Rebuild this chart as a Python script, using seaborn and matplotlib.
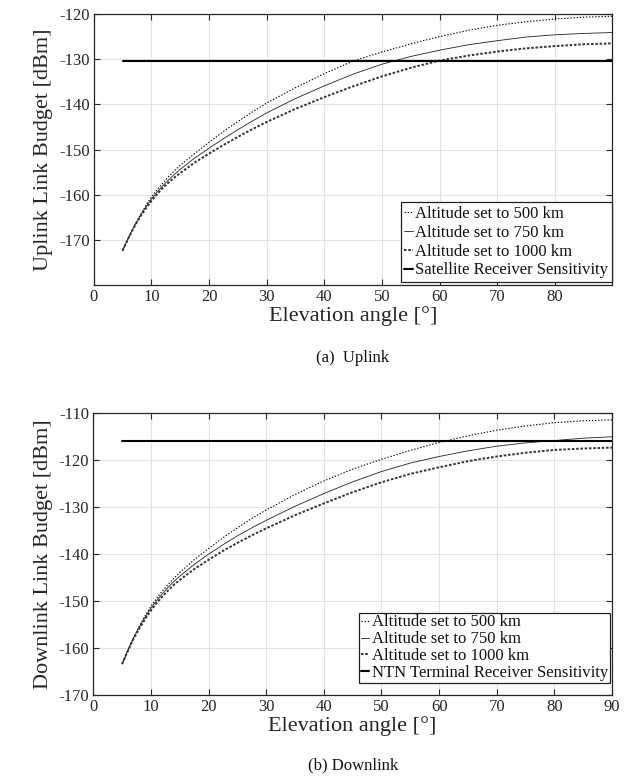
import matplotlib
matplotlib.use("Agg")
import matplotlib.pyplot as plt
import pandas as pd
import seaborn as sns

# ---------------- data ----------------
elev = [5, 6, 7, 8, 9, 10, 11, 12, 13, 14, 15, 17.5, 20, 22.5, 25, 27.5, 30,
        35, 40, 45, 50, 55, 60, 65, 70, 75, 80, 85, 90]

ul_500 = [-172.4, -169.6, -167.0, -164.7, -162.5, -160.5, -158.9, -157.4, -156.0, -154.7,
          -153.5, -150.9, -148.4, -146.0, -143.8, -141.7, -139.7, -136.3, -133.2, -130.4,
          -128.4, -126.6, -125.0, -123.6, -122.5, -121.7, -121.1, -120.7, -120.5]
ul_750 = [-172.4, -169.6, -167.0, -164.8, -162.8, -161.0, -159.4, -158.0, -156.7, -155.5,
          -154.4, -151.9, -149.7, -147.6, -145.6, -143.7, -141.9, -138.7, -135.9, -133.3,
          -131.1, -129.4, -128.0, -126.8, -125.9, -125.1, -124.6, -124.3, -124.1]
ul_1000 = [-172.4, -169.7, -167.2, -165.0, -163.1, -161.4, -159.9, -158.5, -157.3, -156.2,
           -155.2, -152.9, -150.9, -149.0, -147.2, -145.5, -143.9, -141.0, -138.4, -136.0,
           -133.8, -131.9, -130.3, -129.2, -128.3, -127.6, -127.1, -126.7, -126.5]
ul_sens = -130.3

dl_500 = [-163.4, -160.4, -157.7, -155.3, -153.1, -151.1, -149.4, -147.8, -146.4, -145.1,
          -143.9, -141.2, -138.8, -136.5, -134.4, -132.4, -130.6, -127.3, -124.4, -121.9,
          -119.8, -117.9, -116.2, -114.8, -113.6, -112.7, -112.0, -111.6, -111.4]
dl_750 = [-163.4, -160.5, -157.8, -155.5, -153.4, -151.5, -149.9, -148.4, -147.0, -145.8,
          -144.7, -142.2, -140.0, -138.0, -136.1, -134.4, -132.8, -129.8, -127.1, -124.6,
          -122.4, -120.6, -119.2, -118.0, -117.0, -116.3, -115.8, -115.3, -115.0]
dl_1000 = [-163.4, -160.6, -158.0, -155.8, -153.8, -152.0, -150.4, -149.0, -147.7, -146.5,
           -145.5, -143.2, -141.2, -139.3, -137.6, -136.0, -134.5, -131.7, -129.2, -126.8,
           -124.7, -122.9, -121.5, -120.2, -119.2, -118.4, -117.8, -117.5, -117.3]
dl_sens = -115.9

sens_x = [5, 90]

labels_alt = ["Altitude set to 500 km", "Altitude set to 750 km", "Altitude set to 1000 km"]
ul_sens_label = "Satellite Receiver Sensitivity"
dl_sens_label = "NTN Terminal Receiver Sensitivity"

# ---------------- style ----------------
sns.set_theme(style="whitegrid")
plt.rcParams["font.family"] = ["Liberation Serif", "DejaVu Serif"]

fig = plt.figure(figsize=(6.26, 7.79), dpi=100)
W, H = 626, 779


def ax_rect(l, t, r, b):
    return [l / W, 1 - b / H, (r - l) / W, (b - t) / H]


ax1 = fig.add_axes(ax_rect(93.7, 14, 611.7, 285))
ax2 = fig.add_axes(ax_rect(93.3, 413.3, 612.0, 695))

styles = [
    dict(linestyle=(0, (1.2, 1.6)), linewidth=0.8, color="black"),
    dict(linestyle="-", linewidth=0.6, color="#222222"),
    dict(linestyle=(0, (1.3, 0.9)), linewidth=1.4, color="#333333"),
]


def draw(ax, series, sens, sens_label, ylim, yticks, xlim, xticks, leg_rb, lspace, bpad):
    for vals, lab, st in zip(series, labels_alt, styles):
        df = pd.DataFrame({"x": elev, "y": vals})
        sns.lineplot(data=df, x="x", y="y", ax=ax, label=lab, **st)
    sdf = pd.DataFrame({"x": sens_x, "y": [sens, sens]})
    sns.lineplot(data=sdf, x="x", y="y", ax=ax, label=sens_label,
                 color="black", linewidth=1.5)
    ax.set_xlim(*xlim)
    ax.set_ylim(*ylim)
    ax.set_xticks(xticks)
    ax.set_yticks(yticks)
    ax.set_yticklabels([f"{v:d}" for v in yticks])
    ax.grid(True, color="#e3e3e3", linewidth=0.8)
    for s in ax.spines.values():
        s.set_visible(True)
        s.set_color("#262626")
        s.set_linewidth(0.9)
    ax.tick_params(direction="in", length=4, width=0.8, colors="#262626",
                   labelsize=12, top=True, right=True, bottom=True, left=True,
                   pad=3)
    ax.set_xlabel("Elevation angle [°]", fontsize=16, color="#262626", labelpad=1)
    leg = ax.legend(loc="lower right", fontsize=12, frameon=True, fancybox=False,
                    edgecolor="#222222", framealpha=1, handlelength=0.5,
                    handletextpad=0.15, borderpad=bpad, labelspacing=lspace,
                    borderaxespad=0.0,
                    bbox_to_anchor=(leg_rb[0] / W, 1 - leg_rb[1] / H),
                    bbox_transform=fig.transFigure)
    leg.get_frame().set_linewidth(0.9)
    for t in leg.get_texts():
        t.set_color("#111111")


draw(ax1, [ul_500, ul_750, ul_1000], ul_sens, ul_sens_label,
     (-180, -120), list(range(-170, -119, 10)), (0, 89.8), list(range(0, 81, 10)),
     (611.7, 282), 0.17, 0.22)
ax1.set_ylabel("Uplink Link Budget [dBm]", fontsize=16, color="#262626", labelpad=4)

draw(ax2, [dl_500, dl_750, dl_1000], dl_sens, dl_sens_label,
     (-170, -110), list(range(-170, -109, 10)), (0, 90), list(range(0, 91, 10)),
     (610, 683), 0.05, 0.12)
ax2.set_ylabel("Downlink Link Budget [dBm]", fontsize=16, color="#262626", labelpad=4)

fig.text(0.5 * (93.7 + 611.7) / W, 1 - 358 / H, "(a)  Uplink", ha="center", va="center",
         fontsize=12, color="#111111")
fig.text(0.5 * (93.3 + 612) / W, 1 - 765 / H, "(b) Downlink", ha="center", va="center",
         fontsize=12, color="#111111")

fig.savefig("out.png", dpi=100)
